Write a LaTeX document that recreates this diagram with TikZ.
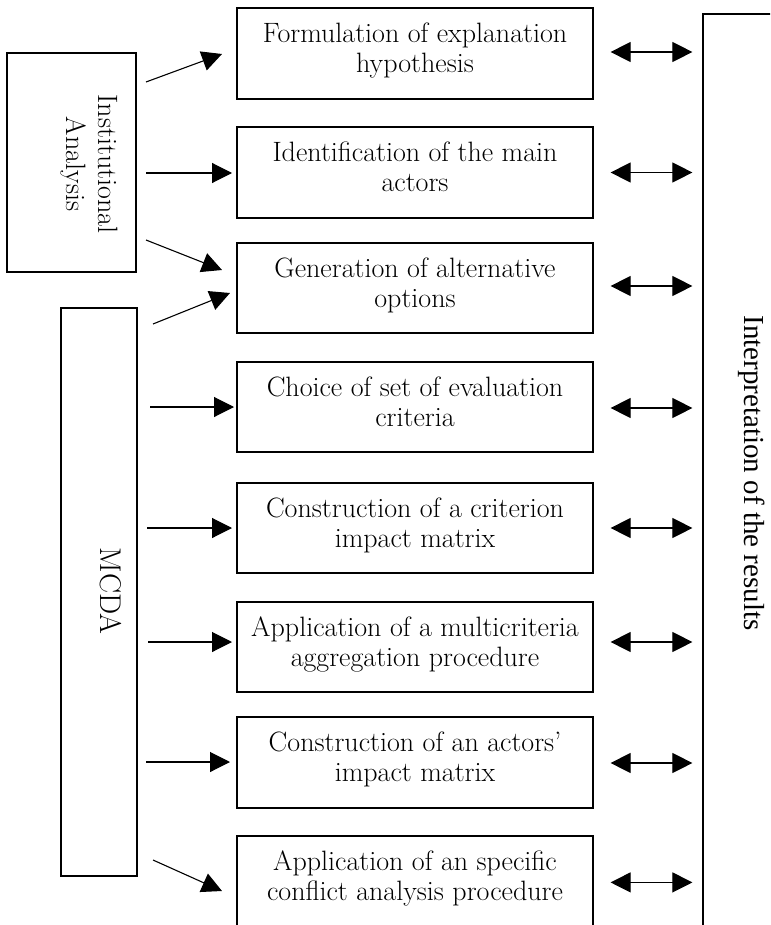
\documentclass[tikz,border=0pt]{standalone}
\usepackage{fontspec}
\newfontfamily\timesf{Liberation Serif}
\usetikzlibrary{arrows.meta,calc}
\begin{document}
\begin{tikzpicture}[x=1pt,y=-1pt,
  stepbox/.style={draw, line width=1.2pt, minimum width=356pt, minimum height=90pt, inner sep=0pt},
  steptext/.style={anchor=north, align=center, inner sep=0pt, font=\fontsize{28}{30}\selectfont},
  sidebox/.style={draw, line width=1.2pt, inner sep=0pt},
  onearrow/.style={line width=1.1pt, -{Triangle[length=20pt,width=20pt]}},
  twoarrow/.style={line width=1.1pt, {Triangle[length=20pt,width=20pt]}-{Triangle[length=20pt,width=20pt]}},
]
\useasboundingbox (0,0) rectangle (770,925);
\clip (0,0) rectangle (770,925);
% main step boxes
\node[stepbox, minimum height=91pt] (b1) at (415,53.5) {};
\node[stepbox, minimum height=91pt] (b2) at (415,172.5) {};
\node[stepbox] (b3) at (415,288) {};
\node[stepbox] (b4) at (415,407) {};
\node[stepbox] (b5) at (415,528) {};
\node[stepbox] (b6) at (415,647) {};
\node[stepbox, minimum height=91pt] (b7) at (415,762.5) {};
\node[stepbox, minimum height=124pt] (b8) at (415,898) {};
% texts
\node[steptext] (t1) at ($(b1.north)+(0,15)$) {Formulation of explanation\\hypothesis};
\node[steptext] (t2) at ($(b2.north)+(0,15)$) {Identification of the main\\actors};
\node[steptext] (t3) at ($(b3.north)+(0,15)$) {Generation of alternative\\options};
\node[steptext] (t4) at ($(b4.north)+(0,15)$) {Choice of set of evaluation\\criteria};
\node[steptext] (t5) at ($(b5.north)+(0,15)$) {Construction of a criterion\\impact matrix};
\node[steptext] (t6) at ($(b6.north)+(0,15)$) {Application of a multicriteria\\aggregation procedure};
\node[steptext] (t7) at ($(b7.north)+(0,15)$) {Construction of an actors'\\impact matrix};
\node[steptext] (t8) at ($(b8.north)+(0,15)$) {Application of an specific\\conflict analysis procedure};
% side boxes
\node[sidebox, minimum width=129pt, minimum height=219pt] (ia) at (71.5,162.5) {};
\node[rotate=-90, align=center, inner sep=0pt, font=\fontsize{28}{32}\selectfont] (iat) at (89,164) {Institutional\\Analysis};
\node[sidebox, minimum width=76pt, minimum height=568pt] (mc) at (99,592) {};
\node[rotate=-90, inner sep=0pt, font=\fontsize{30}{32}\selectfont] (mct) at (111,591) {MCDA};
\node[sidebox, minimum width=100pt, minimum height=990pt] (res) at (753,509) {};
\node[rotate=-90, inner sep=0pt, font=\timesf\fontsize{29}{34}\selectfont] (rest) at (752,473) {Interpretation of the results};
% left arrows
\coordinate (s1) at (146,82);  \coordinate (e1) at (222,54);
\coordinate (s2) at (146,173); \coordinate (e2) at (232,173);
\coordinate (s3) at (146,240); \coordinate (e3) at (222,270);
\coordinate (s4) at (153,324); \coordinate (e4) at (230,293);
\coordinate (s5) at (150,407); \coordinate (e5) at (234,407);
\coordinate (s6) at (147,528); \coordinate (e6) at (232,528);
\coordinate (s7) at (148,642); \coordinate (e7) at (232,642);
\coordinate (s8) at (146,762); \coordinate (e8) at (230,762);
\coordinate (s9) at (153,860); \coordinate (e9) at (222,891);
\foreach \i in {1,...,9} {\draw[onearrow] (s\i) -- (e\i);}
% two-way arrows
\draw[twoarrow] ($(b1.east)+(17,-1.5)$) -- ($(b1.east -| res.west)+(-10,-1.5)$);
\draw[twoarrow] ($(b2.east)+(17,0)$) -- ($(b2.east -| res.west)+(-10,0)$);
\draw[twoarrow] ($(b3.east)+(17,-2)$) -- ($(b3.east -| res.west)+(-10,-2)$);
\draw[twoarrow] ($(b4.east)+(17,1)$) -- ($(b4.east -| res.west)+(-10,1)$);
\draw[twoarrow] ($(b5.east)+(17,0)$) -- ($(b5.east -| res.west)+(-10,0)$);
\draw[twoarrow] ($(b6.east)+(17,-5)$) -- ($(b6.east -| res.west)+(-10,-5)$);
\draw[twoarrow] ($(b7.east)+(17,0.5)$) -- ($(b7.east -| res.west)+(-10,0.5)$);
\draw[twoarrow] ($(b8.north east)+(17,47)$) -- ($(b8.north east -| res.west)+(-10,47)$);
\end{tikzpicture}
\end{document}
